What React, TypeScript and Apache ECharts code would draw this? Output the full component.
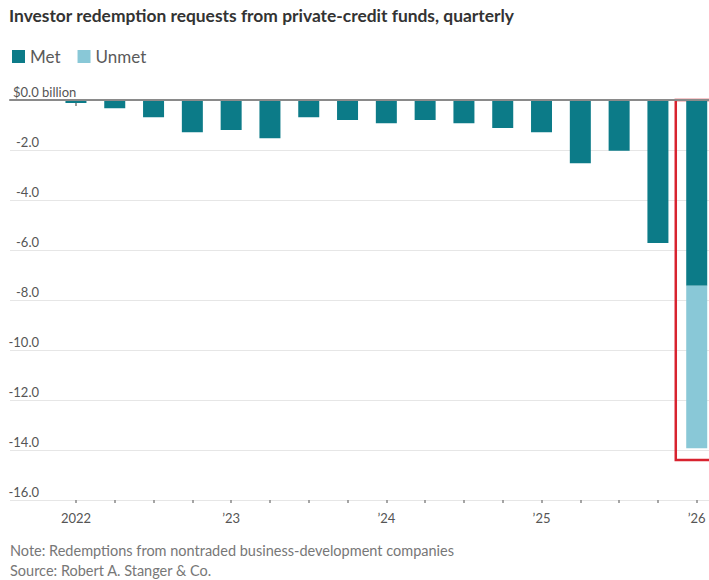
import React, { useEffect, useRef } from "react";
import * as echarts from "echarts";

const quarters = [
  "2022 Q1", "2022 Q2", "2022 Q3", "2022 Q4",
  "2023 Q1", "2023 Q2", "2023 Q3", "2023 Q4",
  "2024 Q1", "2024 Q2", "2024 Q3", "2024 Q4",
  "2025 Q1", "2025 Q2", "2025 Q3", "2025 Q4",
  "2026 Q1",
];
const metValues = [
  -0.12, -0.33, -0.69, -1.29,
  -1.2, -1.53, -0.69, -0.8,
  -0.93, -0.8, -0.93, -1.12,
  -1.29, -2.53, -2.03, -5.72,
  -7.43,
];
const unmetValues: (number | null)[] = [
  null, null, null, null,
  null, null, null, null,
  null, null, null, null,
  null, null, null, null,
  -6.5,
];
const yearTickIndex = [0, 4, 8, 12, 16];
const yearTickLabels = ["2022", "\u201923", "\u201924", "\u201925", "\u201926"];
const highlightRange = { fromIndex: 15.46, toIndex: 16.6, top: 0.12, bottom: -14.4 };

const FONT = "Lato, 'Noto Sans', sans-serif";
const MET_COLOR = "#0c7b88";
const UNMET_COLOR = "#89c8d7";
const BAR_WIDTH = 21;

export default function App() {
  const ref = useRef<HTMLDivElement>(null);
  useEffect(() => {
    if (!ref.current) return;
    const chart = echarts.init(ref.current, null, { renderer: "svg" });
    const allIdx = quarters.map((_, i) => i);
    const xMin = -1.7;
    const xMax = 16.6;
    // Unmet is stacked beneath Met: its bar spans from the Met value down to Met + Unmet.
    const unmetStackData: number[][] = [];
    unmetValues.forEach((v, i) => {
      if (v != null) unmetStackData.push([i, metValues[i] + v, metValues[i]]);
    });
    chart.setOption({
      animation: false,
      backgroundColor: "#ffffff",
      title: {
        text: "Investor redemption requests from private-credit funds, quarterly",
        left: 9,
        top: 7,
        padding: 0,
        textStyle: { fontFamily: FONT, fontSize: 17.4, fontWeight: "bold", color: "#333333" },
      },
      legend: {
        data: ["Met", "Unmet"],
        left: 12,
        top: 48,
        padding: 0,
        icon: "rect",
        itemWidth: 13,
        itemHeight: 13,
        itemGap: 17,
        textStyle: { fontFamily: FONT, fontSize: 17, color: "#5a5a5a" },
      },
      grid: { left: 10, right: 0, top: 100, bottom: 80, containLabel: false },
      xAxis: [
        {
          type: "value",
          position: "bottom",
          min: xMin,
          max: xMax,
          axisLine: { show: true, lineStyle: { color: "#d8d8d8", width: 1 } },
          axisTick: {
            show: true,
            customValues: yearTickIndex,
            length: 6,
            lineStyle: { color: "#777777", width: 1.5 },
          },
          axisLabel: {
            show: true,
            customValues: yearTickIndex,
            formatter: (v: number) => yearTickLabels[yearTickIndex.indexOf(Math.round(v))] ?? "",
            fontFamily: FONT,
            fontSize: 13,
            color: "#555555",
            margin: 11,
          },
          splitLine: { show: false },
        },
        {
          type: "value",
          position: "bottom",
          min: xMin,
          max: xMax,
          axisLine: { show: false },
          axisTick: {
            show: true,
            customValues: allIdx,
            length: 3,
            lineStyle: { color: "#888888", width: 1.5 },
          },
          axisLabel: { show: false },
          splitLine: { show: false },
        },
        {
          type: "value",
          position: "top",
          min: xMin,
          max: xMax,
          z: 10,
          axisLine: { show: true, lineStyle: { color: "#8a8a8a", width: 2 } },
          axisTick: { show: false },
          axisLabel: { show: false },
          splitLine: { show: false },
        },
      ],
      yAxis: {
        type: "value",
        min: -16,
        max: 0,
        interval: 2,
        axisLine: { show: false },
        axisTick: { show: false },
        splitLine: { show: true, lineStyle: { color: "#e6e6e6", width: 1 } },
        axisLabel: {
          inside: true,
          margin: 0,
          align: "left",
          verticalAlign: "bottom",
          padding: [0, 0, 2, 0],
          formatter: (v: number) =>
            v === 0 ? "{z|$0.0}{b| billion}" : `{n|${v.toFixed(1)}}`,
          rich: {
            n: { width: 29, align: "right", fontFamily: FONT, fontSize: 13, color: "#555555" },
            z: { padding: [0, 0, 0, 3], fontFamily: FONT, fontSize: 13, color: "#555555" },
            b: { fontFamily: FONT, fontSize: 13, color: "#555555" },
          },
        },
      },
      series: [
        {
          name: "Met",
          type: "bar",
          xAxisIndex: 0,
          barWidth: BAR_WIDTH,
          itemStyle: { color: MET_COLOR },
          data: metValues.map((v, i) => [i, v]),
        },
        {
          name: "Unmet",
          type: "custom",
          xAxisIndex: 0,
          z: 12,
          encode: { x: 0, y: [1, 2] },
          itemStyle: { color: UNMET_COLOR },
          renderItem: (params: any, api: any) => {
            const x = api.value(0);
            const lo = api.value(1);
            const hi = api.value(2);
            const p1 = api.coord([x, hi]);
            const p2 = api.coord([x, lo]);
            return {
              type: "rect",
              shape: { x: p1[0] - BAR_WIDTH / 2, y: p1[1], width: BAR_WIDTH, height: p2[1] - p1[1] },
              style: { fill: UNMET_COLOR },
            };
          },
          data: unmetStackData,
          markArea: {
            silent: true,
            itemStyle: { color: "rgba(0,0,0,0)", borderColor: "#d8232f", borderWidth: 2.5 },
            data: [
              [
                { coord: [highlightRange.fromIndex, highlightRange.top] },
                { coord: [highlightRange.toIndex, highlightRange.bottom] },
              ],
            ],
          },
        },
      ],
      graphic: [
        {
          type: "text",
          left: 10,
          top: 543,
          style: {
            text: "Note: Redemptions from nontraded business-development companies",
            fontFamily: FONT,
            fontSize: 14.5,
            fill: "#777777",
          },
        },
        {
          type: "text",
          left: 10,
          top: 563,
          style: {
            text: "Source: Robert A. Stanger & Co.",
            fontFamily: FONT,
            fontSize: 14.5,
            fill: "#777777",
          },
        },
      ],
    });
    return () => chart.dispose();
  }, []);
  return (
    <div style={{ position: "fixed", left: 0, top: 0, width: 709, height: 580, overflow: "hidden", background: "#fff" }}>
      <div ref={ref} style={{ width: 720, height: 580 }} />
    </div>
  );
}
